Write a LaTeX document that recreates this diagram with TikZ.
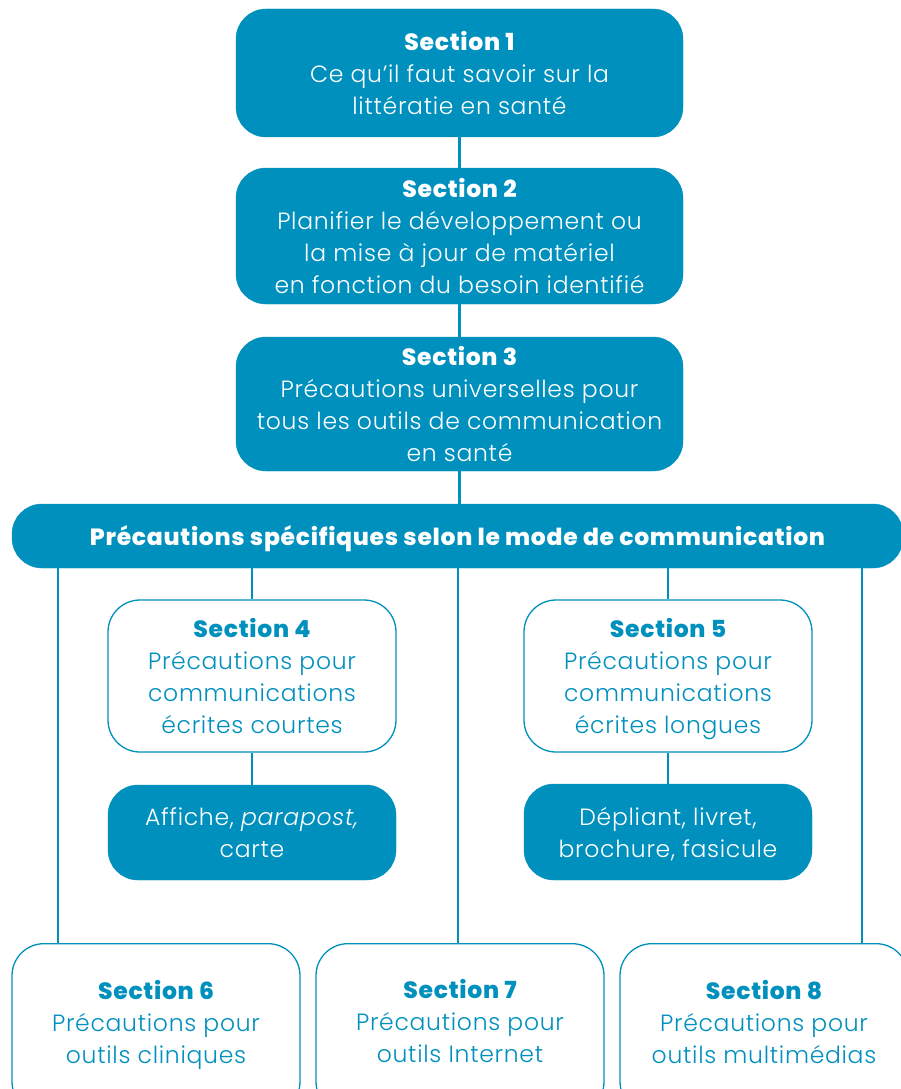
\documentclass[tikz,border=0pt]{standalone}
\usepackage{fontspec}
\setmainfont{Poppins}[LetterSpace=3,UprightFont={Poppins Light},ItalicFont={Poppins Light Italic},BoldFont={Poppins ExtraBold}]
\definecolor{sblue}{RGB}{0,144,190}
\begin{document}
\begin{tikzpicture}[x=1pt,y=-1pt,
  filled/.style={fill=sblue,draw=sblue,text=white,rounded corners=30pt,align=center,inner sep=0pt,text depth=0pt,font=\fontsize{23.5}{32}\selectfont},
  outlined/.style={fill=white,draw=sblue,line width=1.3pt,text=sblue,rounded corners=32pt,align=center,inner sep=0pt,text depth=0pt,font=\fontsize{23.5}{32}\selectfont},
  conn/.style={draw=sblue,line width=2.5pt},
  bottxt/.style={text=sblue,align=center,text depth=0pt,font=\fontsize{23.5}{32}\selectfont}]
\useasboundingbox (0,0) rectangle (901,1089);
\node[filled,minimum width=447pt,minimum height=128pt] (s1) at (459.5,73) {{\bfseries Section 1}\\Ce qu'il faut savoir sur la\\littératie en santé};
\node[filled,minimum width=447pt,minimum height=136pt] (s2) at (459.5,236) {{\bfseries Section 2}\\Planifier le développement ou\\la mise à jour de matériel\\en fonction du besoin identifié};
\node[filled,minimum width=447pt,minimum height=134pt] (s3) at (459.5,404) {{\bfseries Section 3}\\Précautions universelles pour\\tous les outils de communication\\en santé};
\node[filled,minimum width=891pt,minimum height=64pt,font=\fontsize{23.5}{28}\selectfont\bfseries] (ban) at (457.5,536) {Précautions spécifiques selon le mode de communication};
\node[outlined,minimum width=288pt,minimum height=152pt] (s4) at (252,676) {{\bfseries Section 4}\\Précautions pour\\communications\\écrites courtes};
\node[filled,minimum width=288pt,minimum height=95pt] (a4) at (252,832.5) {Affiche, \textit{parapost,}\\carte};
\node[outlined,minimum width=288pt,minimum height=152pt] (s5) at (668,676) {{\bfseries Section 5}\\Précautions pour\\communications\\écrites longues};
\node[filled,minimum width=288pt,minimum height=96pt] (a5) at (668,832) {Dépliant, livret,\\brochure, fasicule};
\node[outlined,minimum width=288pt,minimum height=170pt,anchor=north] (s6) at (156,943) {};
\node[outlined,minimum width=288pt,minimum height=170pt,anchor=north] (s7) at (460,943) {};
\node[outlined,minimum width=288pt,minimum height=170pt,anchor=north] (s8) at (764,943) {};
\node[bottxt] (t6) at (156,1022) {{\bfseries Section 6}\\Précautions pour\\outils cliniques};
\node[bottxt] (t7) at (460,1021) {{\bfseries Section 7}\\Précautions pour\\outils Internet};
\node[bottxt] (t8) at (764,1022) {{\bfseries Section 8}\\Précautions pour\\outils multimédias};
\coordinate (c6) at (58,943);
\coordinate (c7) at (458,943);
\coordinate (c8) at (862,943);
\draw[conn] (s1.south) -- (s2.north);
\draw[conn] (s2.south) -- (s3.north);
\draw[conn] (s3.south) -- (s3.south |- ban.north);
\draw[conn] (c6 |- ban.south) -- (c6);
\draw[conn] (c7 |- ban.south) -- (c7);
\draw[conn] (c8 |- ban.south) -- (c8);
\draw[conn] (s4.north |- ban.south) -- (s4.north);
\draw[conn] (s4.south) -- (a4.north);
\draw[conn] (s5.north |- ban.south) -- (s5.north);
\draw[conn] (s5.south) -- (a5.north);
\end{tikzpicture}
\end{document}
